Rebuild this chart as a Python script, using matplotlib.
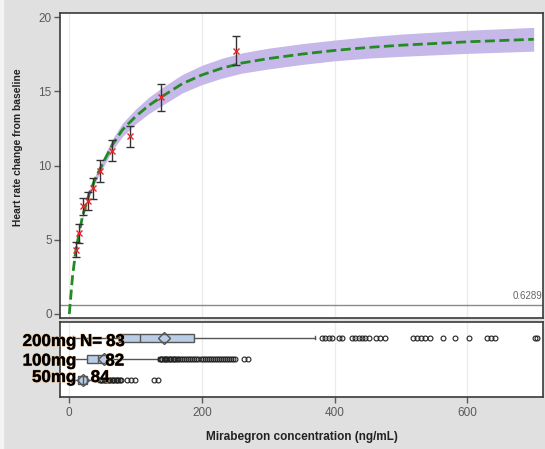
import matplotlib
matplotlib.use("Agg")
import matplotlib.pyplot as plt
import matplotlib.patheffects as pe
from matplotlib.patches import Rectangle

plt.rcParams['font.family'] = ['Liberation Sans', 'DejaVu Sans']

# observed mean change (+/- CI) at binned concentrations
conc_obs = [10, 15, 20, 28, 36, 47, 64, 91, 138, 252]
hr_obs = [4.31, 5.43, 7.27, 7.58, 8.5, 9.65, 11.0, 11.98, 14.58, 17.72]
hr_lo = [3.84, 4.81, 6.66, 7.0, 7.76, 8.9, 10.28, 11.26, 13.64, 16.8]
hr_hi = [4.85, 6.04, 7.83, 8.2, 9.17, 10.4, 11.75, 12.67, 15.46, 18.7]

# model prediction and its band
conc_fit = [0, 5, 10, 15, 20, 30, 40, 50, 65, 80, 100, 120, 140, 170, 200, 230, 260, 300,
            350, 400, 450, 500, 600, 700]
hr_fit = [0, 2.6, 4.3, 5.5, 6.6, 8.1, 9.2, 10.1, 11.4, 12.4, 13.3, 14.05, 14.65, 15.5, 16.1,
          16.55, 16.9, 17.2, 17.5, 17.75, 17.95, 18.1, 18.33, 18.5]
hr_fit_lo = [0, 2.55, 4.2, 5.38, 6.45, 7.9, 8.95, 9.8, 11.02, 11.95, 12.8, 13.5, 14.05, 14.88,
             15.45, 15.88, 16.22, 16.5, 16.8, 17.05, 17.23, 17.35, 17.55, 17.7]
hr_fit_hi = [0, 2.65, 4.4, 5.62, 6.75, 8.3, 9.45, 10.4, 11.78, 12.85, 13.8, 14.6, 15.25, 16.12,
             16.75, 17.22, 17.58, 17.9, 18.2, 18.45, 18.67, 18.85, 19.11, 19.3]

ref_value = 0.6289

# concentration distribution per dose
doses = ['50mg', '100mg', '200mg']
counts = [84, 82, 83]
q1 = [13, 27, 75]
med = [20, 43, 106]
q3 = [27, 57, 188]
means = [21, 53, 142]
whis_lo = [3, 6, 5]
whis_hi = [44, 134, 370]
fliers_50 = [46, 48, 50, 52, 54, 56, 58, 60, 62, 64, 66, 68, 70, 72, 74, 76, 78, 87, 93, 99, 128, 133]
fliers_100 = [136, 138, 140, 142, 144, 146, 148, 150, 152, 154, 156, 158, 160, 162, 164, 167, 170,
              173, 176, 179, 182, 185, 188, 191, 194, 198, 201, 205, 208, 211, 214, 217, 220, 223,
              226, 229, 232, 235, 238, 241, 244, 247, 250, 264, 270]
fliers_200 = [381, 386, 391, 396, 406, 411, 426, 431, 436, 441, 446, 451, 462, 469, 476, 518, 524,
              530, 536, 543, 564, 582, 603, 629, 636, 642, 702, 705]
fliers = [fliers_50, fliers_100, fliers_200]

xticks = [0, 200, 400, 600]
yticks = [0, 5, 10, 15, 20]

W, H = 545, 449
fig = plt.figure(figsize=(W / 100, H / 100), dpi=100, facecolor='#e0e0e0')
fig.patches.append(Rectangle((0, 0), 3 / W, 1, transform=fig.transFigure, color='#f4f4f4', zorder=-1))

def frac(x0, y0, x1, y1):
    return [x0 / W, 1 - y1 / H, (x1 - x0) / W, (y1 - y0) / H]

ax = fig.add_axes(frac(60, 13, 543, 318))
axb = fig.add_axes(frac(60, 322, 543, 397), sharex=ax)

spine_col = '#3a3a3a'
tick_col = '#5a5a5a'
for a in (ax, axb):
    a.set_facecolor('white')
    for s in a.spines.values():
        s.set_color(spine_col)
        s.set_linewidth(1.2)
    for x in xticks:
        a.axvline(x, color='#ececec', lw=1, zorder=0)

# main panel
ax.fill_between(conc_fit, hr_fit_lo, hr_fit_hi, color='#c6b9ea', lw=0, zorder=1)
ax.plot(conc_fit, hr_fit, color='#228b22', lw=2, dashes=(3.6, 1.6), zorder=3)
yerr = [[m - l for m, l in zip(hr_obs, hr_lo)], [h - m for m, h in zip(hr_obs, hr_hi)]]
ax.errorbar(conc_obs, hr_obs, yerr=yerr, fmt='none', ecolor='#333333', elinewidth=1,
            capsize=2.8, capthick=1, zorder=4)
ax.plot(conc_obs, hr_obs, 'x', color='#e8262a', ms=4, mew=1, zorder=5)
ax.axhline(ref_value, color='#8a8a8a', lw=1, zorder=2)
ax.text(713, ref_value + 0.25, f'{ref_value:.4f}', ha='right', va='bottom', fontsize=7,
        color='#666666')

ax.set_xlim(-14, 714)
ax.set_ylim(-0.27, 20.27)
ax.set_yticks(yticks)
ax.tick_params(axis='y', direction='out', length=4, width=1, color=tick_col,
               labelcolor=tick_col, labelsize=8.5, pad=2)
ax.tick_params(axis='x', bottom=False, labelbottom=False)

# box panel
stats = []
for i in range(3):
    stats.append(dict(q1=q1[i], med=med[i], q3=q3[i], mean=means[i],
                      whislo=whis_lo[i], whishi=whis_hi[i], fliers=fliers[i]))
axb.bxp(stats, positions=[1, 2, 3], orientation='horizontal', widths=0.38, showmeans=True,
        patch_artist=True, capwidths=0.15,
        boxprops=dict(facecolor='#b9cde6', edgecolor='#555555', lw=1),
        medianprops=dict(color='#555555', lw=1),
        whiskerprops=dict(color='#555555', lw=1),
        capprops=dict(color='#555555', lw=1),
        meanprops=dict(marker='D', markerfacecolor='none', markeredgecolor='#555555', ms=6, mew=1),
        flierprops=dict(marker='o', markerfacecolor='none', markeredgecolor='#222222', ms=3.5, mew=0.8))
axb.set_ylim(0.2, 3.75)
axb.set_yticks([])
axb.set_xticks(xticks)
axb.tick_params(axis='x', direction='out', length=4, width=1, color=tick_col,
                labelcolor=tick_col, labelsize=8.5, pad=3)

# dose / N labels over the box panel
halo = [pe.withStroke(linewidth=0.8, foreground='#c99a6a'), pe.Normal()]
label_base = [382, 365.5, 346]
n_left = [90.7, 105.3, 106]
for i in range(3):
    yb = 1 - label_base[i] / H
    fig.text(76 / W, yb, doses[i], ha='right', va='baseline', fontsize=12.2,
             fontweight='bold', color='black', path_effects=halo)
    fig.text(n_left[i] / W, yb, str(counts[i]), ha='left', va='baseline', fontsize=12.2,
             fontweight='bold', color='black', path_effects=halo)
fig.text(80 / W, 1 - label_base[2] / H, 'N=', ha='left', va='baseline', fontsize=12.2,
         fontweight='bold', color='black', path_effects=halo)

fig.text(301.5 / W, 1 - 437 / H, 'Mirabegron concentration (ng/mL)', ha='center', va='center',
         fontsize=8.5, fontweight='bold', color='#222222')
fig.text(18 / W, 1 - 147.5 / H, 'Heart rate change from baseline', ha='center', va='center',
         rotation=90, fontsize=7.4, fontweight='bold', color='#222222')

fig.savefig('out.png', dpi=100, facecolor=fig.get_facecolor())
